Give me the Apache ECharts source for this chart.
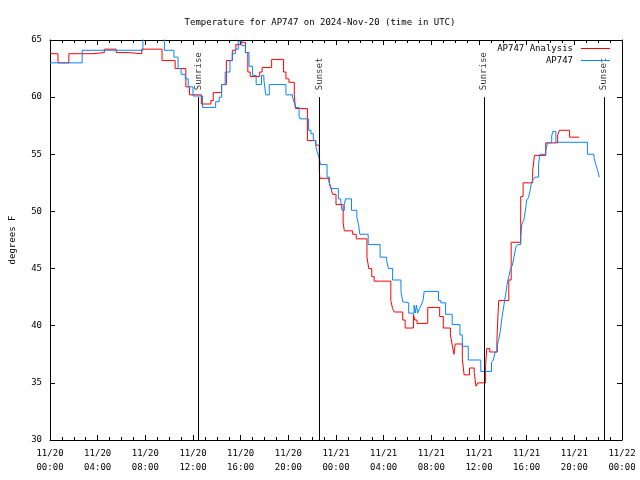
<!DOCTYPE html>
<html>
<head>
<meta charset="utf-8">
<script src="https://cdn.jsdelivr.net/npm/echarts@6/dist/echarts.min.js"></script>
<style>html,body{margin:0;padding:0;background:#fff}#c{width:640px;height:480px}</style>
</head>
<body>
<div id="c"></div>
<script>
// Hours since 2024-11-20 00:00 UTC
var analysisTime = [0,0.67,1.58,3.6,4.56,5.56,6.6,7.7,9.4,10.5,
  11.4,11.7,12.7,13.5,13.7,14.4,14.8,15.3,15.6,16.0,
  16.4,16.6,16.8,17.6,17.8,18.6,19.6,19.8,20.05,20.5,
  20.6,21.6,22.3,22.6,22.65,23.4,23.55,23.7,24.0,24.6,
  24.7,25.4,25.7,26.6,26.75,27.0,27.2,28.6,28.75,28.9,
  29.6,29.8,30.5,30.6,30.8,31.7,32.7,33.0,33.6,33.75,
  33.9,34.0,34.6,34.75,35.2,35.6,35.75,35.9,36.55,36.65,
  36.9,37.5,37.65,38.5,38.7,39.5,39.7,40.5,40.65,41.6,
  42.6,42.75,43.6,44.4];
var analysisTemp = [63.8,63.0,63.8,63.9,64.2,63.9,63.8,64.2,63.2,62.5,
  60.9,60.2,59.4,59.7,60.4,61.1,63.2,64.1,64.6,64.8,
  63.9,62.2,61.8,62.2,62.6,63.3,62.2,61.6,61.3,60.2,
  59.0,56.2,55.8,53.5,52.9,52.6,52.2,51.5,50.6,49.0,
  48.3,48.0,47.6,46.0,45.0,44.3,43.9,42.2,41.5,41.2,
  40.5,39.8,41.0,40.5,40.2,41.6,40.8,39.8,39.2,38.3,
  37.5,38.4,37.1,35.7,36.3,35.9,34.7,35.0,36.5,38.0,
  37.7,38.7,42.2,44.0,47.3,51.3,52.5,53.5,54.9,56.0,
  56.7,57.1,56.5,56.5];
var obsTime = [0,2.7,7.8,9.6,10.4,10.75,11.0,11.35,11.6,12.0,
  12.8,13.9,14.2,14.4,14.7,15.1,15.3,15.55,15.8,16.1,
  16.4,16.7,17.0,17.3,17.75,17.95,18.1,18.4,19.8,20.35,
  20.5,20.6,20.9,21.0,21.7,21.9,22.1,22.3,22.45,22.6,
  22.7,23.25,23.45,23.6,24.2,24.4,24.5,24.7,24.8,25.3,
  25.75,25.9,26.0,26.7,27.7,28.25,28.4,28.75,29.45,29.6,
  29.7,30.1,30.55,30.65,30.75,30.85,31.0,31.15,31.3,31.4,
  32.6,32.8,33.2,33.75,34.4,34.6,35.1,36.15,37.05,37.2,
  37.35,37.55,37.65,37.8,37.9,38.0,38.15,38.25,38.35,38.5,
  38.65,38.8,38.95,39.1,39.25,39.5,39.6,39.75,39.9,40.0,
  40.15,40.3,40.4,40.55,40.7,41.0,41.1,41.6,41.75,42.1,
  42.2,42.45,45.1,45.65,45.8,45.95,46.1];
var obsTemp = [63.0,64.1,65.5,64.1,63.5,62.5,62.0,61.6,60.9,60.1,
  59.1,59.6,60.0,61.1,62.2,63.2,63.8,64.2,64.9,64.5,
  63.9,62.7,61.9,61.1,61.9,61.5,60.2,61.1,60.2,60.0,
  59.5,59.1,58.3,58.1,57.1,56.8,56.2,55.7,55.1,54.6,
  54.1,53.0,52.3,52.0,51.1,50.8,50.1,50.6,51.1,50.1,
  49.5,48.8,48.0,47.1,46.0,45.7,45.0,44.0,43.0,42.1,
  42.0,41.1,41.8,41.1,41.8,41.1,41.5,41.8,42.2,43.0,
  42.2,42.0,41.0,40.1,39.2,38.2,37.0,36.0,36.8,37.0,
  37.7,38.3,38.8,39.6,40.5,41.2,42.2,42.8,43.6,44.3,
  45.0,45.3,46.1,46.9,47.1,47.8,48.9,49.2,50.1,51.0,
  51.2,51.9,52.5,52.8,53.0,54.1,55.0,55.3,56.0,56.6,
  57.0,56.05,55.0,54.7,54.1,53.6,53.0];
var sunTimes = [12.45, 22.6, 36.42, 46.5];
var sunLabels = ['Sunrise', 'Sunset', 'Sunrise', 'Sunset'];
var sunLineTop = 60;
var seriesNames = ['AP747 Analysis', 'AP747'];
var seriesColors = ['#ff0000', '#0a84ff'];
var titleText = 'Temperature for AP747 on 2024-Nov-20 (time in UTC)';

function zip(a, b) { var r = []; for (var i = 0; i < Math.min(a.length, b.length); i++) r.push([a[i], b[i]]); return r; }
function pad(n) { return (n < 10 ? '0' : '') + n; }
var FONT = 'DejaVu Sans Mono';
var chart = echarts.init(document.getElementById('c'), null, {renderer: 'canvas'});
var xCommon = {
  type: 'value', min: 0, max: 48, interval: 4,
  axisLine: {show: true, onZero: false, lineStyle: {color: '#000', width: 1}},
  axisTick: {show: true, inside: true, length: 5, lineStyle: {color: '#000'}},
  minorTick: {show: true, splitNumber: 4, length: 3, lineStyle: {color: '#000'}},
  splitLine: {show: false}, minorSplitLine: {show: false}
};
var yCommon = {
  type: 'value', min: 30, max: 65, interval: 5,
  axisLine: {show: true, onZero: false, lineStyle: {color: '#000', width: 1}},
  axisTick: {show: true, inside: true, length: 5, lineStyle: {color: '#000'}},
  splitLine: {show: false}
};
function legendFor(i, top) {
  return {data: [{name: seriesNames[i], itemStyle: {color: seriesColors[i]}}],
    right: 30, top: top, padding: 0, orient: 'vertical', align: 'right',
    icon: 'rect', itemWidth: 29, itemHeight: 1,
    itemStyle: {color: seriesColors[i], borderWidth: 0},
    lineStyle: {color: seriesColors[i], width: 0},
    textStyle: {fontFamily: FONT, fontSize: 9, color: '#000', padding: [0, 3, 0, 0]}};
}
var option = {
  animation: false,
  backgroundColor: '#fff',
  textStyle: {fontFamily: FONT},
  title: {text: titleText, left: 'center', top: 13,
    textStyle: {fontFamily: FONT, fontSize: 9, fontWeight: 'normal', color: '#000'}},
  legend: [legendFor(0, 44), legendFor(1, 56)],
  grid: {left: 46, right: 18, top: 40, bottom: 40, containLabel: false},
  xAxis: [
    Object.assign({}, xCommon, {position: 'bottom',
      axisLabel: {show: true, margin: 7, color: '#000', fontFamily: FONT, fontSize: 9, lineHeight: 14,
        formatter: function (v) { var d = 20 + Math.floor(v / 24); return '11/' + d + '\n' + pad(v % 24) + ':00'; }}}),
    Object.assign({}, xCommon, {position: 'top', axisLabel: {show: false}})
  ],
  yAxis: [
    Object.assign({}, yCommon, {position: 'left', name: 'degrees F', nameLocation: 'middle', nameGap: 33,
      nameRotate: 90, nameTextStyle: {fontFamily: FONT, fontSize: 9, color: '#000'},
      axisLabel: {show: true, margin: 8, color: '#000', fontFamily: FONT, fontSize: 9}}),
    Object.assign({}, yCommon, {position: 'right', axisLabel: {show: false}})
  ],
  series: [
    {name: seriesNames[0], type: 'line', step: 'end', data: zip(analysisTime, analysisTemp),
      showSymbol: false, symbol: 'none', color: seriesColors[0], lineStyle: {color: seriesColors[0], width: 1},
      clip: true,
      markLine: {silent: true, symbol: ['none', 'none'], label: {show: false},
        lineStyle: {color: '#000', width: 1, type: 'solid'},
        data: sunTimes.map(function (t) { return [{coord: [t, 30]}, {coord: [t, sunLineTop]}]; })}},
    {name: seriesNames[1], type: 'line', step: 'end', data: zip(obsTime, obsTemp),
      showSymbol: false, symbol: 'none', color: seriesColors[1], lineStyle: {color: seriesColors[1], width: 1},
      clip: true},
    {name: 'sun', type: 'scatter', symbolSize: 0, silent: true,
      data: sunTimes.map(function (t, i) { return {value: [t, sunLineTop], name: sunLabels[i]}; }),
      label: {show: true, position: 'top', distance: 7, rotate: 90, align: 'left', verticalAlign: 'middle',
        formatter: function (p) { return p.name; }, fontFamily: FONT, fontSize: 9, color: '#000'}}
  ]
};
chart.setOption(option);
</script>
</body>
</html>
